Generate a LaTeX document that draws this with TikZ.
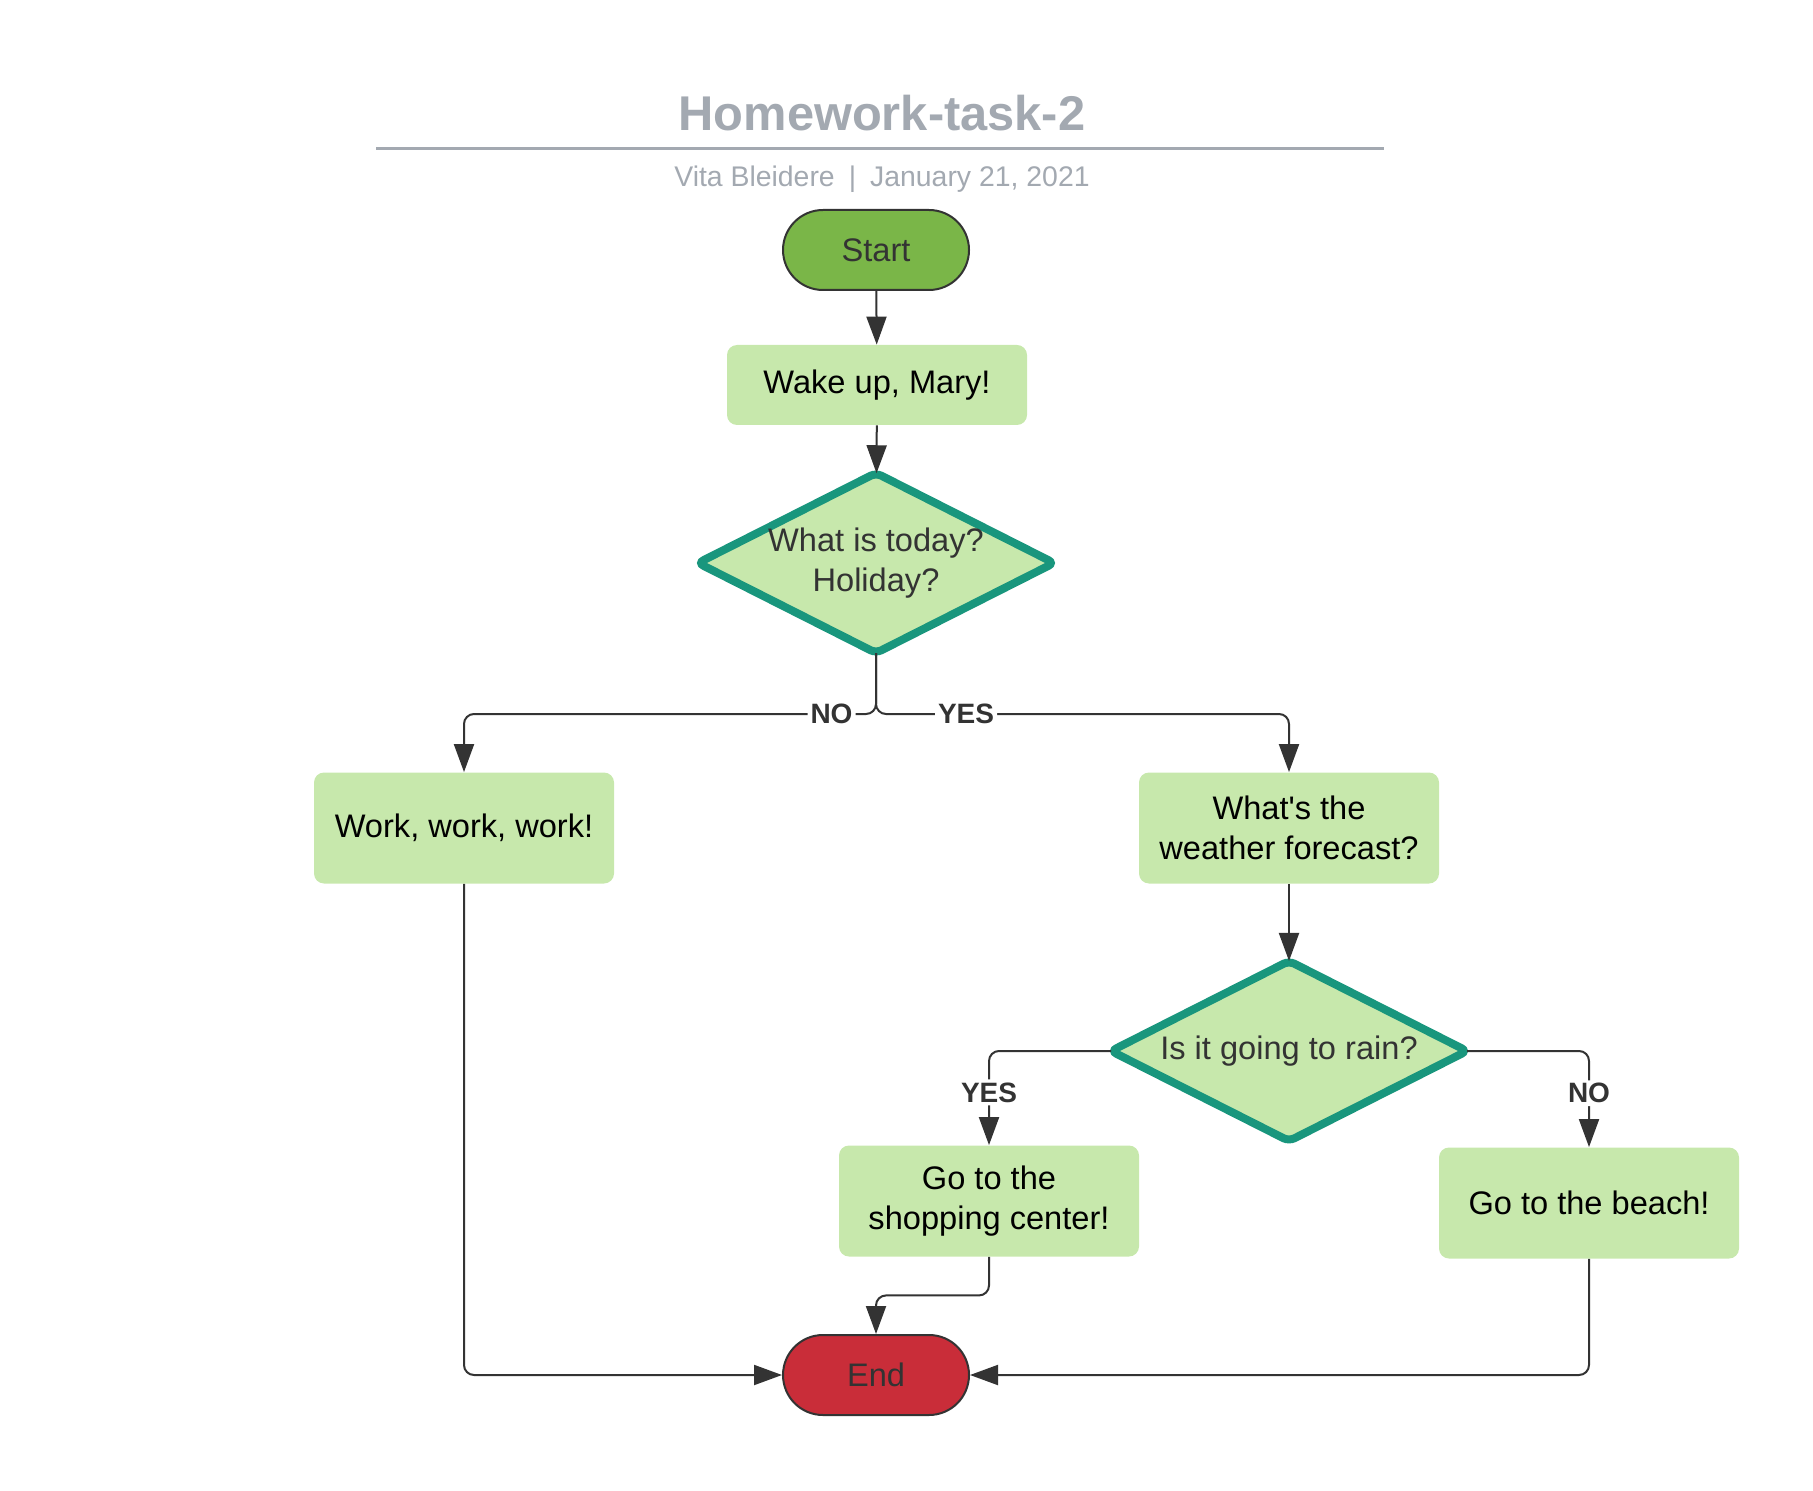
\documentclass[tikz,border=0pt]{standalone}
\usepackage{fontspec}
\setmainfont{Liberation Sans}
\usetikzlibrary{shapes.geometric,arrows.meta,calc}
\definecolor{boxgreen}{HTML}{C7E8AC}
\definecolor{startgreen}{HTML}{7AB648}
\definecolor{endred}{HTML}{C92D39}
\definecolor{teal}{HTML}{19967D}
\definecolor{ink}{HTML}{333333}
\definecolor{titlegray}{HTML}{A3A9B1}
\tikzset{
  txt/.style={font=\fontsize{16.3}{20}\selectfont, align=center, inner sep=0pt},
  terminal/.style={txt, draw=ink, line width=1pt, rounded corners=20pt, minimum width=93pt, minimum height=40pt, text=ink},
  process/.style={txt, fill=boxgreen, rounded corners=5pt, minimum width=150pt, minimum height=55.5pt, text=black},
  decision/.style={diamond, draw=teal, fill=boxgreen, line width=4pt, rounded corners=3pt, inner sep=0pt, outer sep=0pt, minimum width=178pt, minimum height=90pt,
    label={[txt, text=ink]center:#1}},
  flow/.style={draw=ink, line width=1pt, rounded corners=5pt, -{Triangle[length=14pt,width=10pt]}},
  answer/.style={font=\bfseries\fontsize{14}{16}\selectfont, text=ink, fill=white, inner sep=1.5pt}
}
\begin{document}
\begin{tikzpicture}[x=0.5pt,y=-0.5pt]
\useasboundingbox (0,0) rectangle (1813,1491);
\node[anchor=base, inner sep=0pt, text=titlegray, font=\bfseries\fontsize{24.4}{28}\selectfont] (title) at (882,131) {Homework-task-2};
\draw[titlegray, line width=1.5pt] (376,149) -- (1384,149);
\node[anchor=base, inner sep=0pt, text=titlegray, font=\fontsize{14.2}{17}\selectfont] (byline) at (882,187) {Vita Bleidere\hspace{7pt}|\hspace{7pt}January 21, 2021};
\node[terminal, fill=startgreen] (start) at (876,250) {Start};
\node[process, minimum height=40pt] (wake) at (877,385) {Wake up, Mary!};
\node[decision={What is today?\\Holiday?}] (today) at (876,563) {};
\node[process] (work) at (464,828) {Work, work, work!};
\node[process] (weather) at (1289,828) {What\textquotesingle s the\\weather forecast?};
\node[decision={Is it going to rain?}] (rain) at (1289,1051) {};
\node[process] (shop) at (989,1201) {Go to the\\shopping center!};
\node[process] (beach) at (1589,1203) {Go to the beach!};
\node[terminal, fill=endred] (end) at (876,1375) {End};
\coordinate (fork) at (876,714);
\draw[flow] (start) -- (wake);
\draw[flow] (wake) -- (today);
\draw[flow] (today.south) -- (fork) -| node[answer, pos=0.054] {NO} (work.north);
\draw[flow] (today.south) -- (fork) -| node[answer, pos=0.109] {YES} (weather.north);
\draw[flow] (weather) -- (rain);
\draw[flow] (rain.west) -| node[answer, pos=0.72] {YES} (shop.north);
\draw[flow] (rain.east) -| node[answer, pos=0.72] {NO} (beach.north);
\draw[flow] (shop.south) |- ($(shop.south)!.5!(end.north)$) -| (end.north);
\draw[flow] (work.south) |- (end.west);
\draw[flow] (beach.south) |- (end.east);
\end{tikzpicture}
\end{document}
